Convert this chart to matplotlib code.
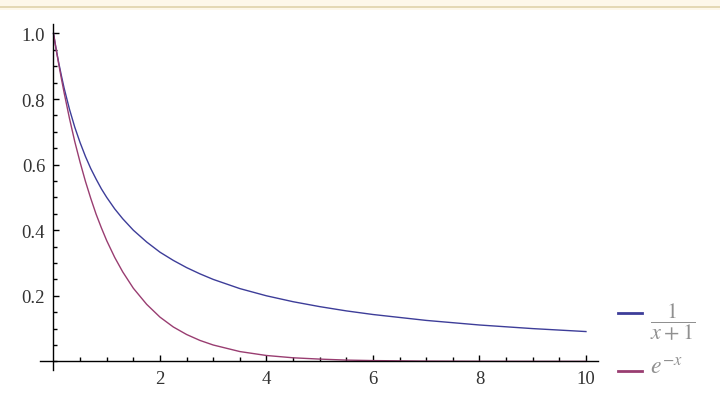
"""
Mathematica-style plot of 1/(x+1) and e^-x
"""

import matplotlib.pyplot as plt
from matplotlib.lines import Line2D
from matplotlib.patches import Rectangle
from matplotlib.ticker import MultipleLocator, FixedLocator

plt.rcParams['font.family'] = ['Liberation Serif', 'DejaVu Serif']
plt.rcParams['mathtext.fontset'] = 'stix'

# values
x_vals = [0, 0.05, 0.1, 0.15, 0.2, 0.3, 0.4, 0.5, 0.6, 0.7, 0.8, 0.9, 1.0,
          1.15, 1.3, 1.5, 1.75, 2.0, 2.25, 2.5, 2.75, 3.0, 3.5, 4.0,
          4.5, 5.0, 5.5, 6.0, 7.0, 8.0, 9.0, 10.0]
recip = [1.0, 0.952, 0.909, 0.870, 0.833, 0.769, 0.714, 0.667, 0.625, 0.588, 0.556, 0.526, 0.5,
         0.465, 0.435, 0.4, 0.364, 0.333, 0.308, 0.286, 0.267, 0.25, 0.222, 0.2,
         0.182, 0.167, 0.154, 0.143, 0.125, 0.111, 0.1, 0.091]
expo = [1.0, 0.951, 0.905, 0.861, 0.819, 0.741, 0.670, 0.607, 0.549, 0.497, 0.449, 0.407, 0.368,
        0.317, 0.273, 0.223, 0.174, 0.135, 0.105, 0.082, 0.064, 0.050, 0.030, 0.018,
        0.011, 0.007, 0.004, 0.0025, 0.0009, 0.0003, 0.0001, 0.00005]

labels = [r'$\dfrac{1}{x+1}$', r'$e^{-x}$']
colors = ['#3d3d99', '#993d71']

fig = plt.figure(figsize=(7.2, 4.1), dpi=100)

# beige band along the top edge
fig.patches.append(Rectangle((0, 1 - 11 / 410), 1, 11 / 410, transform=fig.transFigure,
                             facecolor='#fdf7ea', edgecolor='none'))
fig.add_artist(Line2D([0, 1], [1 - 8.3 / 410] * 2, transform=fig.transFigure,
                      color='#e2d5b0', lw=1.3))

ax = fig.add_axes([0.0558, 0.0961, 0.7743, 0.8439])

ax.plot(x_vals, recip, color=colors[0], lw=1.0)
ax.plot(x_vals, expo, color=colors[1], lw=1.0)

ax.set_xlim(-0.25, 10.22)
ax.set_ylim(-0.025, 1.03)

for side in ['top', 'right']:
    ax.spines[side].set_visible(False)
ax.spines['left'].set_position(('data', 0))
ax.spines['bottom'].set_position(('data', 0))
for side in ['left', 'bottom']:
    ax.spines[side].set_linewidth(1.0)

ax.xaxis.set_major_locator(FixedLocator([2, 4, 6, 8, 10]))
ax.xaxis.set_minor_locator(FixedLocator([0.5, 1, 1.5, 2.5, 3, 3.5, 4.5, 5, 5.5,
                                         6.5, 7, 7.5, 8.5, 9, 9.5]))
ax.yaxis.set_major_locator(FixedLocator([0.2, 0.4, 0.6, 0.8, 1.0]))
ax.yaxis.set_minor_locator(MultipleLocator(0.05))
ax.set_xticklabels(['2', '4', '6', '8', '10'])
ax.set_yticklabels(['0.2', '0.4', '0.6', '0.8', '1.0'])

ax.tick_params(which='both', direction='in', width=1.0, labelsize=13.5, colors='black')
ax.tick_params(which='major', length=4.5)
ax.tick_params(which='minor', length=3)
ax.tick_params(axis='y', pad=6)
ax.tick_params(axis='x', pad=6)
for lab in ax.get_xticklabels() + ax.get_yticklabels():
    lab.set_color('#333333')

# legend on the right, drawn by hand
legend_y = [314, 372]
text_y = [322, 369]
text_size = [16, 17]
for c, lab, ly, ty, fs in zip(colors, labels, legend_y, text_y, text_size):
    fig.add_artist(Line2D([618 / 720, 642 / 720], [1 - ly / 410] * 2,
                          transform=fig.transFigure, color=c, lw=2.0))
    fig.text(650 / 720, 1 - ty / 410, lab, color='#909090', fontsize=fs,
             ha='left', va='center')

fig.savefig('out.png', dpi=100)
